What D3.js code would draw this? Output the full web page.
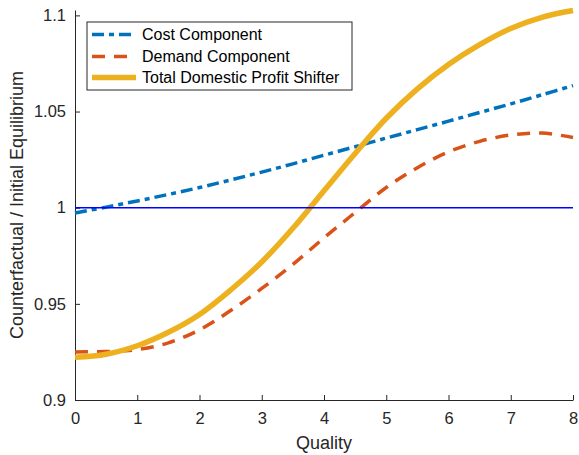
<!DOCTYPE html>
<html>
<head>
<meta charset="utf-8">
<script src="https://cdn.jsdelivr.net/npm/d3@7"></script>
<style>
  html, body { margin: 0; padding: 0; background: #fff; }
  svg { display: block; font-family: "Liberation Sans", Arial, Helvetica, sans-serif; }
</style>
</head>
<body>
<svg id="chart" width="579" height="455"></svg>
<script>
// Quality grid and the three decomposition series (counterfactual / initial)
const quality = [0, 0.5, 1, 1.5, 2, 2.5, 3, 3.5, 4, 4.5, 5, 5.5, 6, 6.5, 7, 7.5, 8];
const costComponent = [0.9972, 1.0003, 1.0035, 1.0069, 1.0105, 1.0144, 1.0185, 1.0228, 1.0273, 1.0317, 1.0362, 1.0406, 1.0450, 1.0495, 1.0540, 1.0587, 1.0635];
const demandComponent = [0.9250, 0.9252, 0.9262, 0.9297, 0.9365, 0.9465, 0.9580, 0.9705, 0.9843, 0.9975, 1.0105, 1.0208, 1.0290, 1.0345, 1.0378, 1.0388, 1.0365];
const totalShifter = [0.9222, 0.9238, 0.9282, 0.9352, 0.9445, 0.9572, 0.9718, 0.9893, 1.0088, 1.0282, 1.0465, 1.0618, 1.0745, 1.0848, 1.0932, 1.0990, 1.1025];
const seriesNames = ["Cost Component", "Demand Component", "Total Domestic Profit Shifter"];
const xTicks = [0, 1, 2, 3, 4, 5, 6, 7, 8];
const yTicks = [0.9, 0.95, 1, 1.05, 1.1];
const yTickLabels = ["0.9", "0.95", "1", "1.05", "1.1"];
const baseline = 1;

const svg = d3.select("#chart");
const x = d3.scaleLinear().domain([0, 8]).range([75, 573]);
const y = d3.scaleLinear().domain([0.9, 1.1028]).range([400, 10]);
const axisColor = "#262626";

// axes (ticks point inward, no box)
const xAxis = svg.append("g").attr("transform", `translate(0,${y(0.9)})`)
  .call(d3.axisBottom(x).tickValues(xTicks).tickFormat(d3.format("d")).tickSizeInner(-5).tickSizeOuter(0).tickPadding(12));
const yAxis = svg.append("g").attr("transform", `translate(${x(0)},0)`)
  .call(d3.axisLeft(y).tickValues(yTicks).tickFormat((d, i) => yTickLabels[i]).tickSizeInner(-5).tickSizeOuter(0).tickPadding(9));
[xAxis, yAxis].forEach(g => {
  g.select(".domain").attr("stroke", axisColor).attr("stroke-width", 1);
  g.selectAll(".tick line").attr("stroke", axisColor).attr("stroke-width", 1);
  g.selectAll(".tick text").attr("fill", axisColor).style("font-size", "16.5px").style("font-family", "Liberation Sans, Arial, sans-serif");
});

// axis labels
svg.append("text").attr("x", x(4)).attr("y", 449).attr("text-anchor", "middle")
  .attr("fill", axisColor).style("font-size", "18px").text("Quality");
svg.append("text").attr("transform", `translate(23,${(y.range()[0] + y.range()[1]) / 2}) rotate(-90)`)
  .attr("text-anchor", "middle").attr("fill", axisColor).style("font-size", "18px")
  .text("Counterfactual / Initial Equilibrium");

const line = vals => d3.line().x((d, i) => x(quality[i])).y(d => y(d)).curve(d3.curveCatmullRom.alpha(0.5))(vals);

const styles = [
  { vals: costComponent, color: "#0072BD", width: 3.5, dash: "12,5,5,5" },
  { vals: demandComponent, color: "#D95319", width: 3.5, dash: "13,9" },
  { vals: totalShifter, color: "#EDB120", width: 5.5, dash: null }
];
styles.forEach(s => {
  svg.append("path").attr("d", line(s.vals)).attr("fill", "none")
    .attr("stroke", s.color).attr("stroke-width", s.width)
    .attr("stroke-dasharray", s.dash);
});

// reference line at 1
svg.append("line").attr("x1", x(0)).attr("x2", x(8)).attr("y1", y(baseline)).attr("y2", y(baseline))
  .attr("stroke", "#0000FF").attr("stroke-width", 1.5);

// legend
const lg = svg.append("g");
lg.append("rect").attr("x", 87).attr("y", 22).attr("width", 265).attr("height", 68)
  .attr("fill", "#fff").attr("stroke", axisColor).attr("stroke-width", 1);
const rowY = [34.5, 56.5, 77.5];
styles.forEach((s, i) => {
  lg.append("line").attr("x1", 92).attr("x2", 136).attr("y1", rowY[i]).attr("y2", rowY[i])
    .attr("stroke", s.color).attr("stroke-width", s.width).attr("stroke-dasharray", s.dash);
  lg.append("text").attr("x", 142).attr("y", rowY[i]).attr("dy", "0.35em")
    .attr("fill", "#000").style("font-size", "16px").text(seriesNames[i]);
});
</script>
</body>
</html>
